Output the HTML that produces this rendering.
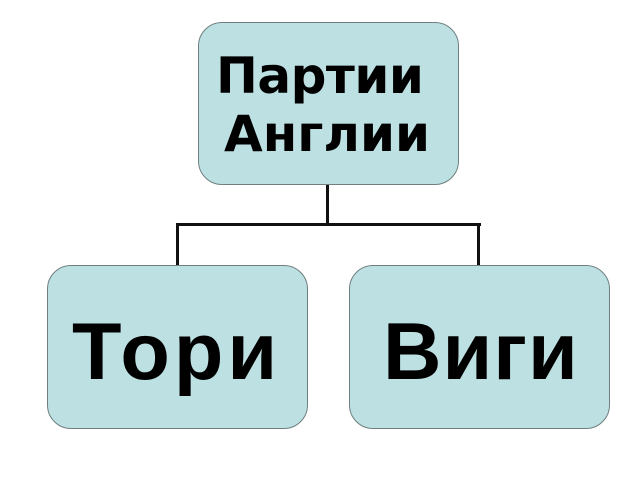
<!DOCTYPE html>
<html><head><style>
body{margin:0;width:640px;height:480px;background:#fff;position:relative;overflow:hidden;font-family:"DejaVu Sans","Liberation Sans",sans-serif;font-weight:bold;color:#000}
.b{position:absolute;background:#bde0e3;border:1px solid #6f7f80;border-radius:24px;box-sizing:border-box}
.t{position:absolute;white-space:nowrap}
.s{font-family:"Liberation Sans",sans-serif}
.l{position:absolute;background:#111}
</style></head><body>
<div class="l" style="left:326px;top:184px;width:3px;height:42px"></div>
<div class="l" style="left:176px;top:223px;width:305px;height:3px"></div>
<div class="l" style="left:176px;top:223px;width:3px;height:43px"></div>
<div class="l" style="left:477px;top:223px;width:3px;height:43px"></div>
<div class="b" style="left:198px;top:22px;width:261px;height:163px"></div>
<div class="b" style="left:47px;top:265px;width:261px;height:164px"></div>
<div class="b" style="left:349px;top:265px;width:261px;height:164px"></div>
<div class="t" style="left:216px;top:51px;font-size:50px;line-height:50px;letter-spacing:-0.5px">Партии</div>
<div class="t" style="left:224px;top:109px;font-size:50px;line-height:50px;letter-spacing:0px">Англии</div>
<div class="t s" style="left:72px;top:307px;font-size:81px;line-height:90px;letter-spacing:4px">Тори</div>
<div class="t s" style="left:383px;top:307px;font-size:81px;line-height:90px;letter-spacing:1px">Виги</div>
</body></html>
